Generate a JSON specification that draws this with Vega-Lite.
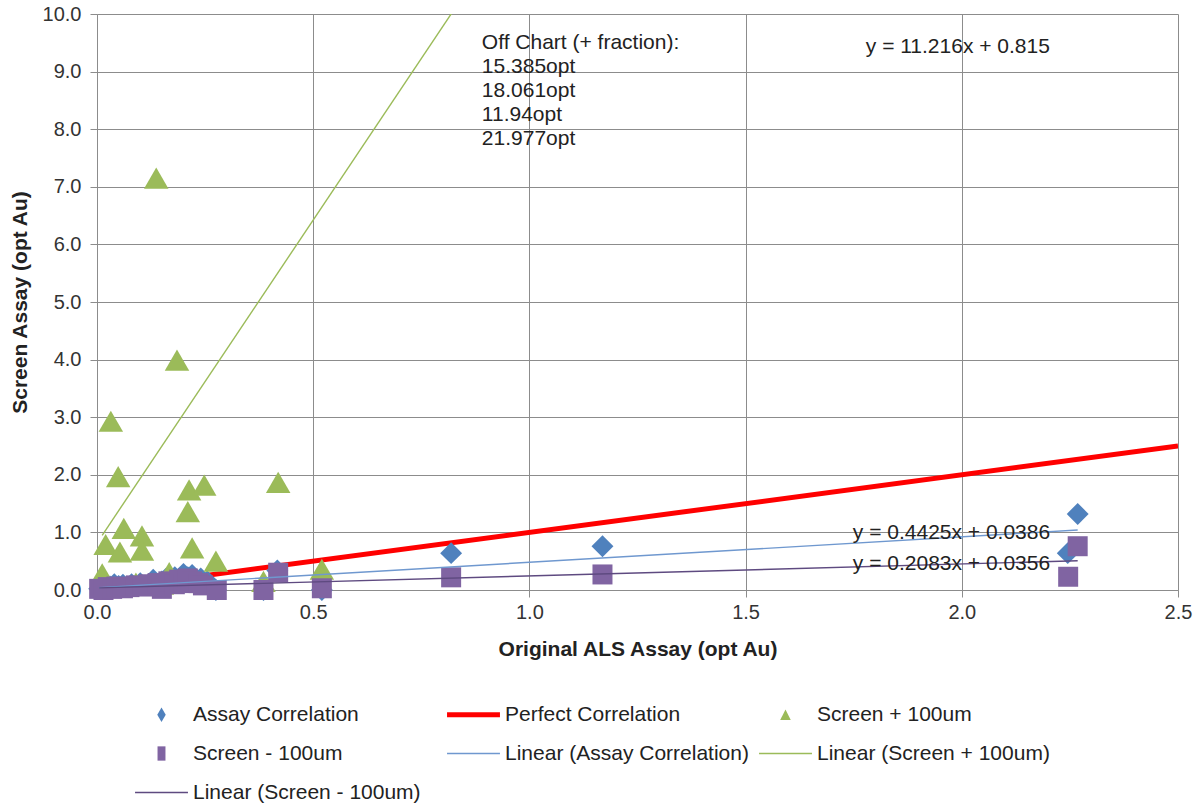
{
  "$schema": "https://vega.github.io/schema/vega-lite/v6.json",
  "width": 1081,
  "height": 576,
  "autosize": {"type": "none"},
  "padding": {"left": 97, "top": 14, "right": 21, "bottom": 216},
  "background": "white",
  "config": {
    "font": "Liberation Sans",
    "view": {"stroke": null},
    "axis": {
      "gridColor": "#8c8c8c", "gridWidth": 1, "gridOpacity": 1,
      "domainColor": "#8c8c8c", "tickColor": "#8c8c8c", "tickSize": 7,
      "labelFont": "Liberation Sans", "labelFontSize": 20, "labelColor": "#333333",
      "titleFont": "Liberation Sans", "titleFontSize": 21, "titleFontWeight": "bold", "titleColor": "#222222"
    }
  },
  "datasets": {
    "pts": [
      {"series": "Assay Correlation", "x": 0.005, "y": 0.02},
      {"series": "Assay Correlation", "x": 0.01, "y": 0.05},
      {"series": "Assay Correlation", "x": 0.02, "y": 0.08},
      {"series": "Assay Correlation", "x": 0.03, "y": 0.06},
      {"series": "Assay Correlation", "x": 0.04, "y": 0.1},
      {"series": "Assay Correlation", "x": 0.05, "y": 0.07},
      {"series": "Assay Correlation", "x": 0.06, "y": 0.09},
      {"series": "Assay Correlation", "x": 0.07, "y": 0.05},
      {"series": "Assay Correlation", "x": 0.08, "y": 0.1},
      {"series": "Assay Correlation", "x": 0.1, "y": 0.12},
      {"series": "Assay Correlation", "x": 0.12, "y": 0.1},
      {"series": "Assay Correlation", "x": 0.13, "y": 0.18},
      {"series": "Assay Correlation", "x": 0.15, "y": 0.15},
      {"series": "Assay Correlation", "x": 0.16, "y": 0.2},
      {"series": "Assay Correlation", "x": 0.18, "y": 0.22},
      {"series": "Assay Correlation", "x": 0.2, "y": 0.28},
      {"series": "Assay Correlation", "x": 0.21, "y": 0.22},
      {"series": "Assay Correlation", "x": 0.22, "y": 0.26},
      {"series": "Assay Correlation", "x": 0.24, "y": 0.2},
      {"series": "Assay Correlation", "x": 0.255, "y": 0.15},
      {"series": "Assay Correlation", "x": 0.275, "y": 0.0},
      {"series": "Assay Correlation", "x": 0.385, "y": 0.0},
      {"series": "Assay Correlation", "x": 0.417, "y": 0.34},
      {"series": "Assay Correlation", "x": 0.52, "y": 0.0},
      {"series": "Assay Correlation", "x": 0.819, "y": 0.64},
      {"series": "Assay Correlation", "x": 1.169, "y": 0.76},
      {"series": "Assay Correlation", "x": 2.245, "y": 0.64},
      {"series": "Assay Correlation", "x": 2.268, "y": 1.32},
      {"series": "Screen + 100um", "x": 0.137, "y": 7.15},
      {"series": "Screen + 100um", "x": 0.185, "y": 3.99},
      {"series": "Screen + 100um", "x": 0.032, "y": 2.93},
      {"series": "Screen + 100um", "x": 0.049, "y": 1.97},
      {"series": "Screen + 100um", "x": 0.213, "y": 1.74},
      {"series": "Screen + 100um", "x": 0.248, "y": 1.82},
      {"series": "Screen + 100um", "x": 0.21, "y": 1.36},
      {"series": "Screen + 100um", "x": 0.419, "y": 1.87},
      {"series": "Screen + 100um", "x": 0.22, "y": 0.73},
      {"series": "Screen + 100um", "x": 0.062, "y": 1.07},
      {"series": "Screen + 100um", "x": 0.104, "y": 0.94},
      {"series": "Screen + 100um", "x": 0.02, "y": 0.79},
      {"series": "Screen + 100um", "x": 0.053, "y": 0.66},
      {"series": "Screen + 100um", "x": 0.104, "y": 0.69},
      {"series": "Screen + 100um", "x": 0.275, "y": 0.5},
      {"series": "Screen + 100um", "x": 0.52, "y": 0.36},
      {"series": "Screen + 100um", "x": 0.012, "y": 0.28},
      {"series": "Screen + 100um", "x": 0.167, "y": 0.3},
      {"series": "Screen + 100um", "x": 0.385, "y": 0.15},
      {"series": "Screen + 100um", "x": 0.09, "y": 0.12},
      {"series": "Screen + 100um", "x": 0.15, "y": 0.1},
      {"series": "Screen - 100um", "x": 0.005, "y": 0.02},
      {"series": "Screen - 100um", "x": 0.015, "y": 0.0},
      {"series": "Screen - 100um", "x": 0.025, "y": 0.05},
      {"series": "Screen - 100um", "x": 0.035, "y": 0.02},
      {"series": "Screen - 100um", "x": 0.045, "y": 0.06},
      {"series": "Screen - 100um", "x": 0.06, "y": 0.03},
      {"series": "Screen - 100um", "x": 0.075, "y": 0.05},
      {"series": "Screen - 100um", "x": 0.09, "y": 0.08},
      {"series": "Screen - 100um", "x": 0.105, "y": 0.06},
      {"series": "Screen - 100um", "x": 0.12, "y": 0.1},
      {"series": "Screen - 100um", "x": 0.14, "y": 0.12},
      {"series": "Screen - 100um", "x": 0.15, "y": 0.02},
      {"series": "Screen - 100um", "x": 0.165, "y": 0.15},
      {"series": "Screen - 100um", "x": 0.18, "y": 0.1},
      {"series": "Screen - 100um", "x": 0.19, "y": 0.18},
      {"series": "Screen - 100um", "x": 0.2, "y": 0.12},
      {"series": "Screen - 100um", "x": 0.21, "y": 0.2},
      {"series": "Screen - 100um", "x": 0.22, "y": 0.15},
      {"series": "Screen - 100um", "x": 0.235, "y": 0.12},
      {"series": "Screen - 100um", "x": 0.245, "y": 0.08},
      {"series": "Screen - 100um", "x": 0.277, "y": 0.0},
      {"series": "Screen - 100um", "x": 0.385, "y": 0.0},
      {"series": "Screen - 100um", "x": 0.419, "y": 0.3},
      {"series": "Screen - 100um", "x": 0.52, "y": 0.03},
      {"series": "Screen - 100um", "x": 0.819, "y": 0.22},
      {"series": "Screen - 100um", "x": 1.169, "y": 0.27},
      {"series": "Screen - 100um", "x": 2.246, "y": 0.23},
      {"series": "Screen - 100um", "x": 2.268, "y": 0.76}
    ],
    "lines": [
      {"series": "Perfect Correlation", "x": 0, "y": 0},
      {"series": "Perfect Correlation", "x": 2.5, "y": 2.5},
      {"series": "Linear (Assay Correlation)", "x": 0.005, "y": 0.041},
      {"series": "Linear (Assay Correlation)", "x": 2.268, "y": 1.042},
      {"series": "Linear (Screen + 100um)", "x": 0.012, "y": 0.95},
      {"series": "Linear (Screen + 100um)", "x": 2.268, "y": 26.25},
      {"series": "Linear (Screen - 100um)", "x": 0.005, "y": 0.037},
      {"series": "Linear (Screen - 100um)", "x": 2.268, "y": 0.508}
    ],
    "notes": [
      {"x": 0.89, "y": 9.68, "text": "Off Chart (+ fraction):\n15.385opt\n18.061opt\n11.94opt\n21.977opt"},
      {"x": 1.778, "y": 9.62, "text": "y = 11.216x + 0.815"},
      {"x": 1.748, "y": 1.18, "text": "y = 0.4425x + 0.0386"},
      {"x": 1.748, "y": 0.65, "text": "y = 0.2083x + 0.0356"}
    ]
  },
  "encoding": {
    "x": {"field": "x", "type": "quantitative",
      "scale": {"domain": [0, 2.5], "nice": false, "zero": false},
      "axis": {"values": [0, 0.5, 1, 1.5, 2, 2.5], "format": ".1f", "labelFlush": false, "title": "Original ALS Assay (opt Au)", "labelPadding": 5, "titlePadding": 16}},
    "y": {"field": "y", "type": "quantitative",
      "scale": {"domain": [0, 10], "nice": false, "zero": false},
      "axis": {"values": [0, 1, 2, 3, 4, 5, 6, 7, 8, 9, 10], "format": ".1f", "title": "Screen Assay (opt Au)", "labelPadding": 9, "titlePadding": 12}}
  },
  "layer": [
    {
      "data": {"name": "lines"},
      "transform": [{"filter": "datum.series == 'Perfect Correlation'"}],
      "mark": {"type": "line", "strokeWidth": 5, "clip": true},
      "encoding": {
        "color": {"field": "series", "type": "nominal",
          "scale": {
            "domain": ["Assay Correlation", "Perfect Correlation", "Screen + 100um", "Screen - 100um", "Linear (Assay Correlation)", "Linear (Screen + 100um)", "Linear (Screen - 100um)"],
            "range": ["#4F81BD", "#FF0000", "#9BBB59", "#8064A2", "#6F98CF", "#9BBB59", "#5E4A80"]
          },
          "legend": {
            "title": null,
            "orient": "none",
            "legendX": 38,
            "legendY": 690,
            "direction": "horizontal",
            "columns": 3,
            "gridAlign": "all",
            "columnPadding": 0,
            "rowPadding": 17,
            "symbolSize": 2800,
            "symbolOffset": 16,
            "labelOffset": 21,
            "labelFont": "Liberation Sans",
            "labelFontSize": 21,
            "labelColor": "#222222",
            "labelLimit": 400,
            "encode": {
              "symbols": {
                "update": {
                  "shape": {"signal": "datum.value == 'Assay Correlation' ? 'M-0.16,0L0,-0.27L0.16,0L0,0.27Z' : datum.value == 'Screen + 100um' ? 'M-0.2,0.2L0,-0.2L0.2,0.2Z' : datum.value == 'Screen - 100um' ? 'M-0.15,-0.27H0.15V0.27H-0.15Z' : 'M-1,0H1'"},
                  "size": {"value": 2800},
                  "strokeWidth": {"signal": "datum.value == 'Perfect Correlation' ? 5 : ((datum.value == 'Assay Correlation' || datum.value == 'Screen + 100um' || datum.value == 'Screen - 100um') ? 0 : 1.5)"},
                  "fill": {"signal": "scale('color', datum.value)"},
                  "stroke": {"signal": "scale('color', datum.value)"},
                  "opacity": {"value": 1}
                }
              }
            }
          }
        }
      }
    },
    {
      "data": {"name": "pts"},
      "transform": [{"filter": "datum.series == 'Assay Correlation'"}],
      "mark": {"type": "point", "shape": "diamond", "filled": true, "size": 480, "opacity": 1},
      "encoding": {"color": {"field": "series", "type": "nominal"}}
    },
    {
      "data": {"name": "pts"},
      "transform": [{"filter": "datum.series == 'Screen + 100um'"}],
      "mark": {"type": "point", "shape": "triangle-up", "filled": true, "size": 600, "opacity": 1},
      "encoding": {"color": {"field": "series", "type": "nominal"}}
    },
    {
      "data": {"name": "pts"},
      "transform": [{"filter": "datum.series == 'Screen - 100um'"}],
      "mark": {"type": "point", "shape": "square", "filled": true, "size": 400, "opacity": 1},
      "encoding": {"color": {"field": "series", "type": "nominal"}}
    },
    {
      "data": {"name": "lines"},
      "transform": [{"filter": "datum.series != 'Perfect Correlation'"}],
      "mark": {"type": "line", "strokeWidth": 1.4, "clip": true},
      "encoding": {"color": {"field": "series", "type": "nominal"}}
    },
    {
      "data": {"name": "notes"},
      "mark": {"type": "text", "align": "left", "baseline": "top", "lineBreak": "\n", "lineHeight": 24, "font": "Liberation Sans", "fontSize": 21, "color": "#222222"},
      "encoding": {"text": {"field": "text"}}
    }
  ]
}
